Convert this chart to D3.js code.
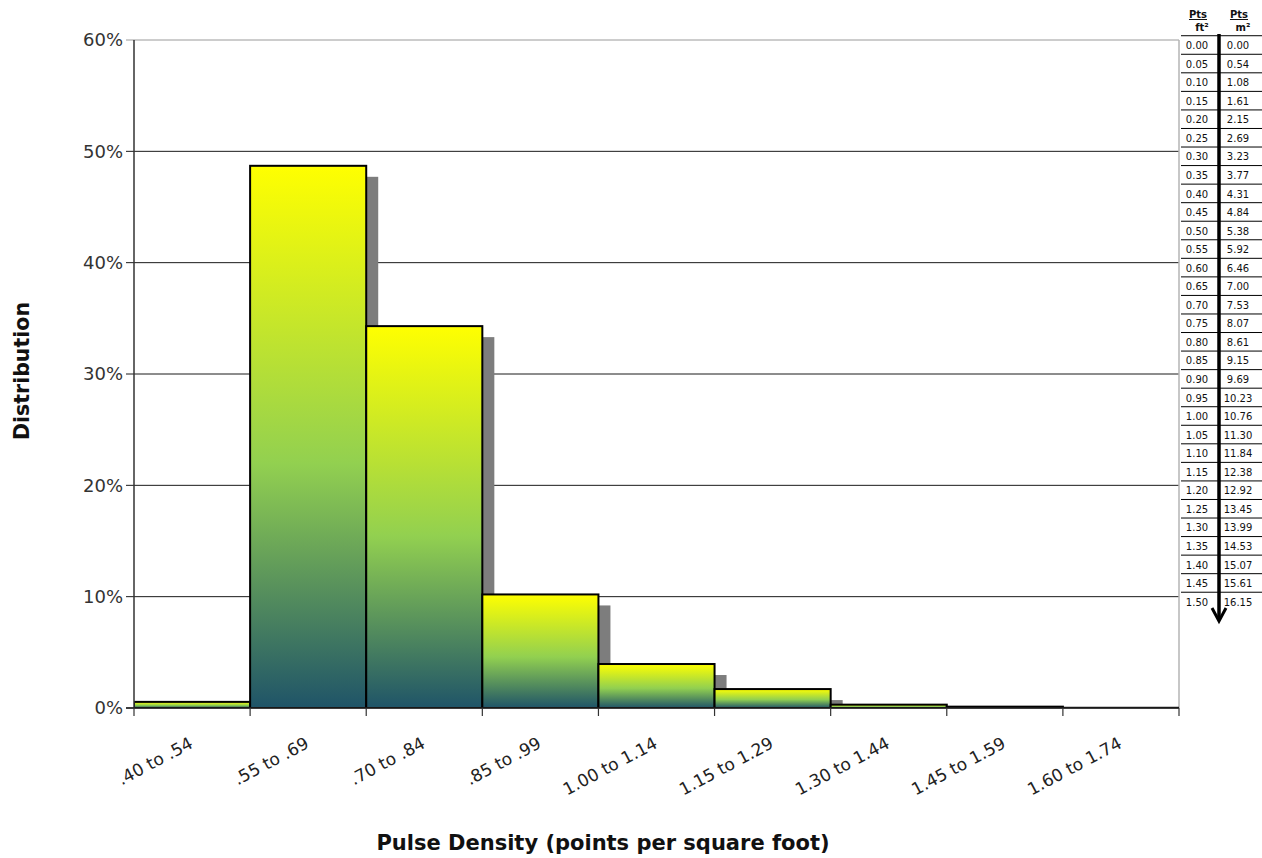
<!DOCTYPE html>
<html>
<head>
<meta charset="utf-8">
<script src="https://cdn.jsdelivr.net/npm/d3@7"></script>
<style>
  html, body { margin: 0; padding: 0; background: #fff; }
  svg { display: block; font-family: "DejaVu Sans", Verdana, sans-serif; }
</style>
</head>
<body>
<svg id="chart" width="1262" height="858"></svg>
<script>
// Pulse density histogram (share of tiles per density bin)
const categories = [".40 to .54", ".55 to .69", ".70 to .84", ".85 to .99", "1.00 to 1.14",
                    "1.15 to 1.29", "1.30 to 1.44", "1.45 to 1.59", "1.60 to 1.74"];
const distribution = [0.55, 48.7, 34.3, 10.2, 3.95, 1.7, 0.3, 0.12, 0.02];
const yTicks = [0, 10, 20, 30, 40, 50, 60];

// Conversion ladder: points per square foot -> points per square metre
const ptsFt2 = ["0.00","0.05","0.10","0.15","0.20","0.25","0.30","0.35","0.40","0.45","0.50",
                "0.55","0.60","0.65","0.70","0.75","0.80","0.85","0.90","0.95","1.00","1.05",
                "1.10","1.15","1.20","1.25","1.30","1.35","1.40","1.45","1.50"];
const ptsM2 = ["0.00","0.54","1.08","1.61","2.15","2.69","3.23","3.77","4.31","4.84","5.38",
               "5.92","6.46","7.00","7.53","8.07","8.61","9.15","9.69","10.23","10.76","11.30",
               "11.84","12.38","12.92","13.45","13.99","14.53","15.07","15.61","16.15"];

const svg = d3.select("#chart");
const plot = { left: 134, right: 1179, top: 40, bottom: 708 };

const x = d3.scaleBand().domain(categories).range([plot.left, plot.right]).padding(0);
const y = d3.scaleLinear().domain([0, 60]).range([plot.bottom, plot.top]);

// bar fill: yellow at the top through green to deep teal at the base
const defs = svg.append("defs");
const grad = defs.append("linearGradient").attr("id", "barFill")
  .attr("x1", 0).attr("y1", 0).attr("x2", 0).attr("y2", 1);
grad.append("stop").attr("offset", "0").attr("stop-color", "#ffff00");
grad.append("stop").attr("offset", "0.55").attr("stop-color", "#92d050");
grad.append("stop").attr("offset", "1").attr("stop-color", "#1f5468");

defs.append("clipPath").attr("id", "plotClip").append("rect")
  .attr("x", plot.left).attr("y", plot.top)
  .attr("width", plot.right - plot.left).attr("height", plot.bottom - plot.top);

// gridlines
svg.append("g").selectAll("line").data(yTicks).join("line")
  .attr("x1", plot.left - 8).attr("x2", plot.right)
  .attr("y1", d => y(d)).attr("y2", d => y(d))
  .attr("stroke", d => d === 60 ? "#9a9a9a" : "#1a1a1a").attr("stroke-width", 1);

// plot frame on the right
svg.append("line").attr("x1", plot.right).attr("x2", plot.right)
  .attr("y1", plot.top).attr("y2", plot.bottom).attr("stroke", "#b5b5b5").attr("stroke-width", 1.5);

// y tick labels
svg.append("g").selectAll("text").data(yTicks).join("text")
  .attr("x", 123).attr("y", d => y(d)).attr("dy", "0.36em")
  .attr("text-anchor", "end").attr("font-size", 18).attr("fill", "#333")
  .text(d => d + "%");

// bars with drop shadow; each bar is drawn after its own shadow
const bars = svg.append("g").attr("clip-path", "url(#plotClip)");
const dx = 12, dy = 11;
categories.forEach((c, i) => {
  const v = distribution[i];
  const x0 = x(c), w = x.bandwidth(), yt = y(v), h = y(0) - y(v);
  bars.append("rect")
    .attr("x", x0 + dx).attr("y", yt + dy)
    .attr("width", w).attr("height", Math.max(0, h))
    .attr("fill", "#7d7d7d");
  bars.append("rect")
    .attr("x", x0).attr("y", yt)
    .attr("width", w).attr("height", h)
    .attr("fill", "url(#barFill)")
    .attr("stroke", "#000").attr("stroke-width", 2);
});

// axes
svg.append("line").attr("x1", plot.left).attr("x2", plot.left)
  .attr("y1", plot.top).attr("y2", plot.bottom).attr("stroke", "#333").attr("stroke-width", 1.5);
svg.append("line").attr("x1", plot.left - 8).attr("x2", plot.right)
  .attr("y1", plot.bottom).attr("y2", plot.bottom).attr("stroke", "#222").attr("stroke-width", 1.5);
const bounds = categories.map(c => x(c)).concat([plot.right]);
svg.append("g").selectAll("line").data(bounds).join("line")
  .attr("x1", d => d).attr("x2", d => d)
  .attr("y1", plot.bottom).attr("y2", plot.bottom + 8)
  .attr("stroke", "#333").attr("stroke-width", 1.2);

// x tick labels, slanted
svg.append("g").selectAll("text").data(categories).join("text")
  .attr("transform", d => `translate(${x(d) + x.bandwidth() / 2 + 2},${747}) rotate(-28)`)
  .attr("text-anchor", "end").attr("font-size", 17).attr("fill", "#222")
  .text(d => d);

// axis titles
svg.append("text").attr("x", 603).attr("y", 850)
  .attr("text-anchor", "middle").attr("font-size", 21).attr("font-weight", "bold").attr("fill", "#111")
  .text("Pulse Density (points per square foot)");
svg.append("text").attr("transform", "translate(29,371) rotate(-90)")
  .attr("text-anchor", "middle").attr("font-size", 20.5).attr("font-weight", "bold").attr("fill", "#111")
  .text("Distribution");

// conversion ladder
const ladder = svg.append("g");
const rowY = d3.scaleLinear().domain([0, ptsFt2.length - 1]).range([45.5, 602]);
const rowH = rowY(1) - rowY(0);
const colL = 1197, colR = 1238, spine = 1219;

ladder.append("line").attr("x1", 1181).attr("x2", 1262)
  .attr("y1", rowY(0) - rowH / 2 - 0.5).attr("y2", rowY(0) - rowH / 2 - 0.5)
  .attr("stroke", "#000").attr("stroke-width", 1);
ladder.selectAll("line.row").data(ptsFt2.slice(0, -1)).join("line")
  .attr("class", "row")
  .attr("x1", 1181).attr("x2", 1262)
  .attr("y1", (d, i) => rowY(i) + rowH / 2 - 0.5).attr("y2", (d, i) => rowY(i) + rowH / 2 - 0.5)
  .attr("stroke", "#000").attr("stroke-width", 1);

ladder.selectAll("text.ft").data(ptsFt2).join("text")
  .attr("class", "ft").attr("x", colL).attr("y", (d, i) => rowY(i)).attr("dy", "0.36em")
  .attr("text-anchor", "middle").attr("font-size", 10).attr("fill", "#111").text(d => d);
ladder.selectAll("text.m").data(ptsM2).join("text")
  .attr("class", "m").attr("x", colR).attr("y", (d, i) => rowY(i)).attr("dy", "0.36em")
  .attr("text-anchor", "middle").attr("font-size", 10).attr("fill", "#111").text(d => d);

// spine with downward arrow
ladder.append("line").attr("x1", spine).attr("x2", spine).attr("y1", 34).attr("y2", 620)
  .attr("stroke", "#000").attr("stroke-width", 3.5);
ladder.append("path").attr("d", `M${spine - 7},608 L${spine},621 L${spine + 7},608`)
  .attr("fill", "none").attr("stroke", "#000").attr("stroke-width", 3);

// column headers
const heads = [
  { x: colL + 1, top: "Pts", bottom: "ft²" },
  { x: colR + 1, top: "Pts", bottom: "m²" }
];
heads.forEach(h => {
  ladder.append("text").attr("x", h.x).attr("y", 18).attr("text-anchor", "middle")
    .attr("font-size", 10).attr("font-weight", "bold").attr("text-decoration", "underline")
    .attr("fill", "#111").text(h.top);
  ladder.append("text").attr("x", h.x + 4).attr("y", 31).attr("text-anchor", "middle")
    .attr("font-size", 10).attr("font-weight", "bold").attr("fill", "#111").text(h.bottom);
});
</script>
</body>
</html>
